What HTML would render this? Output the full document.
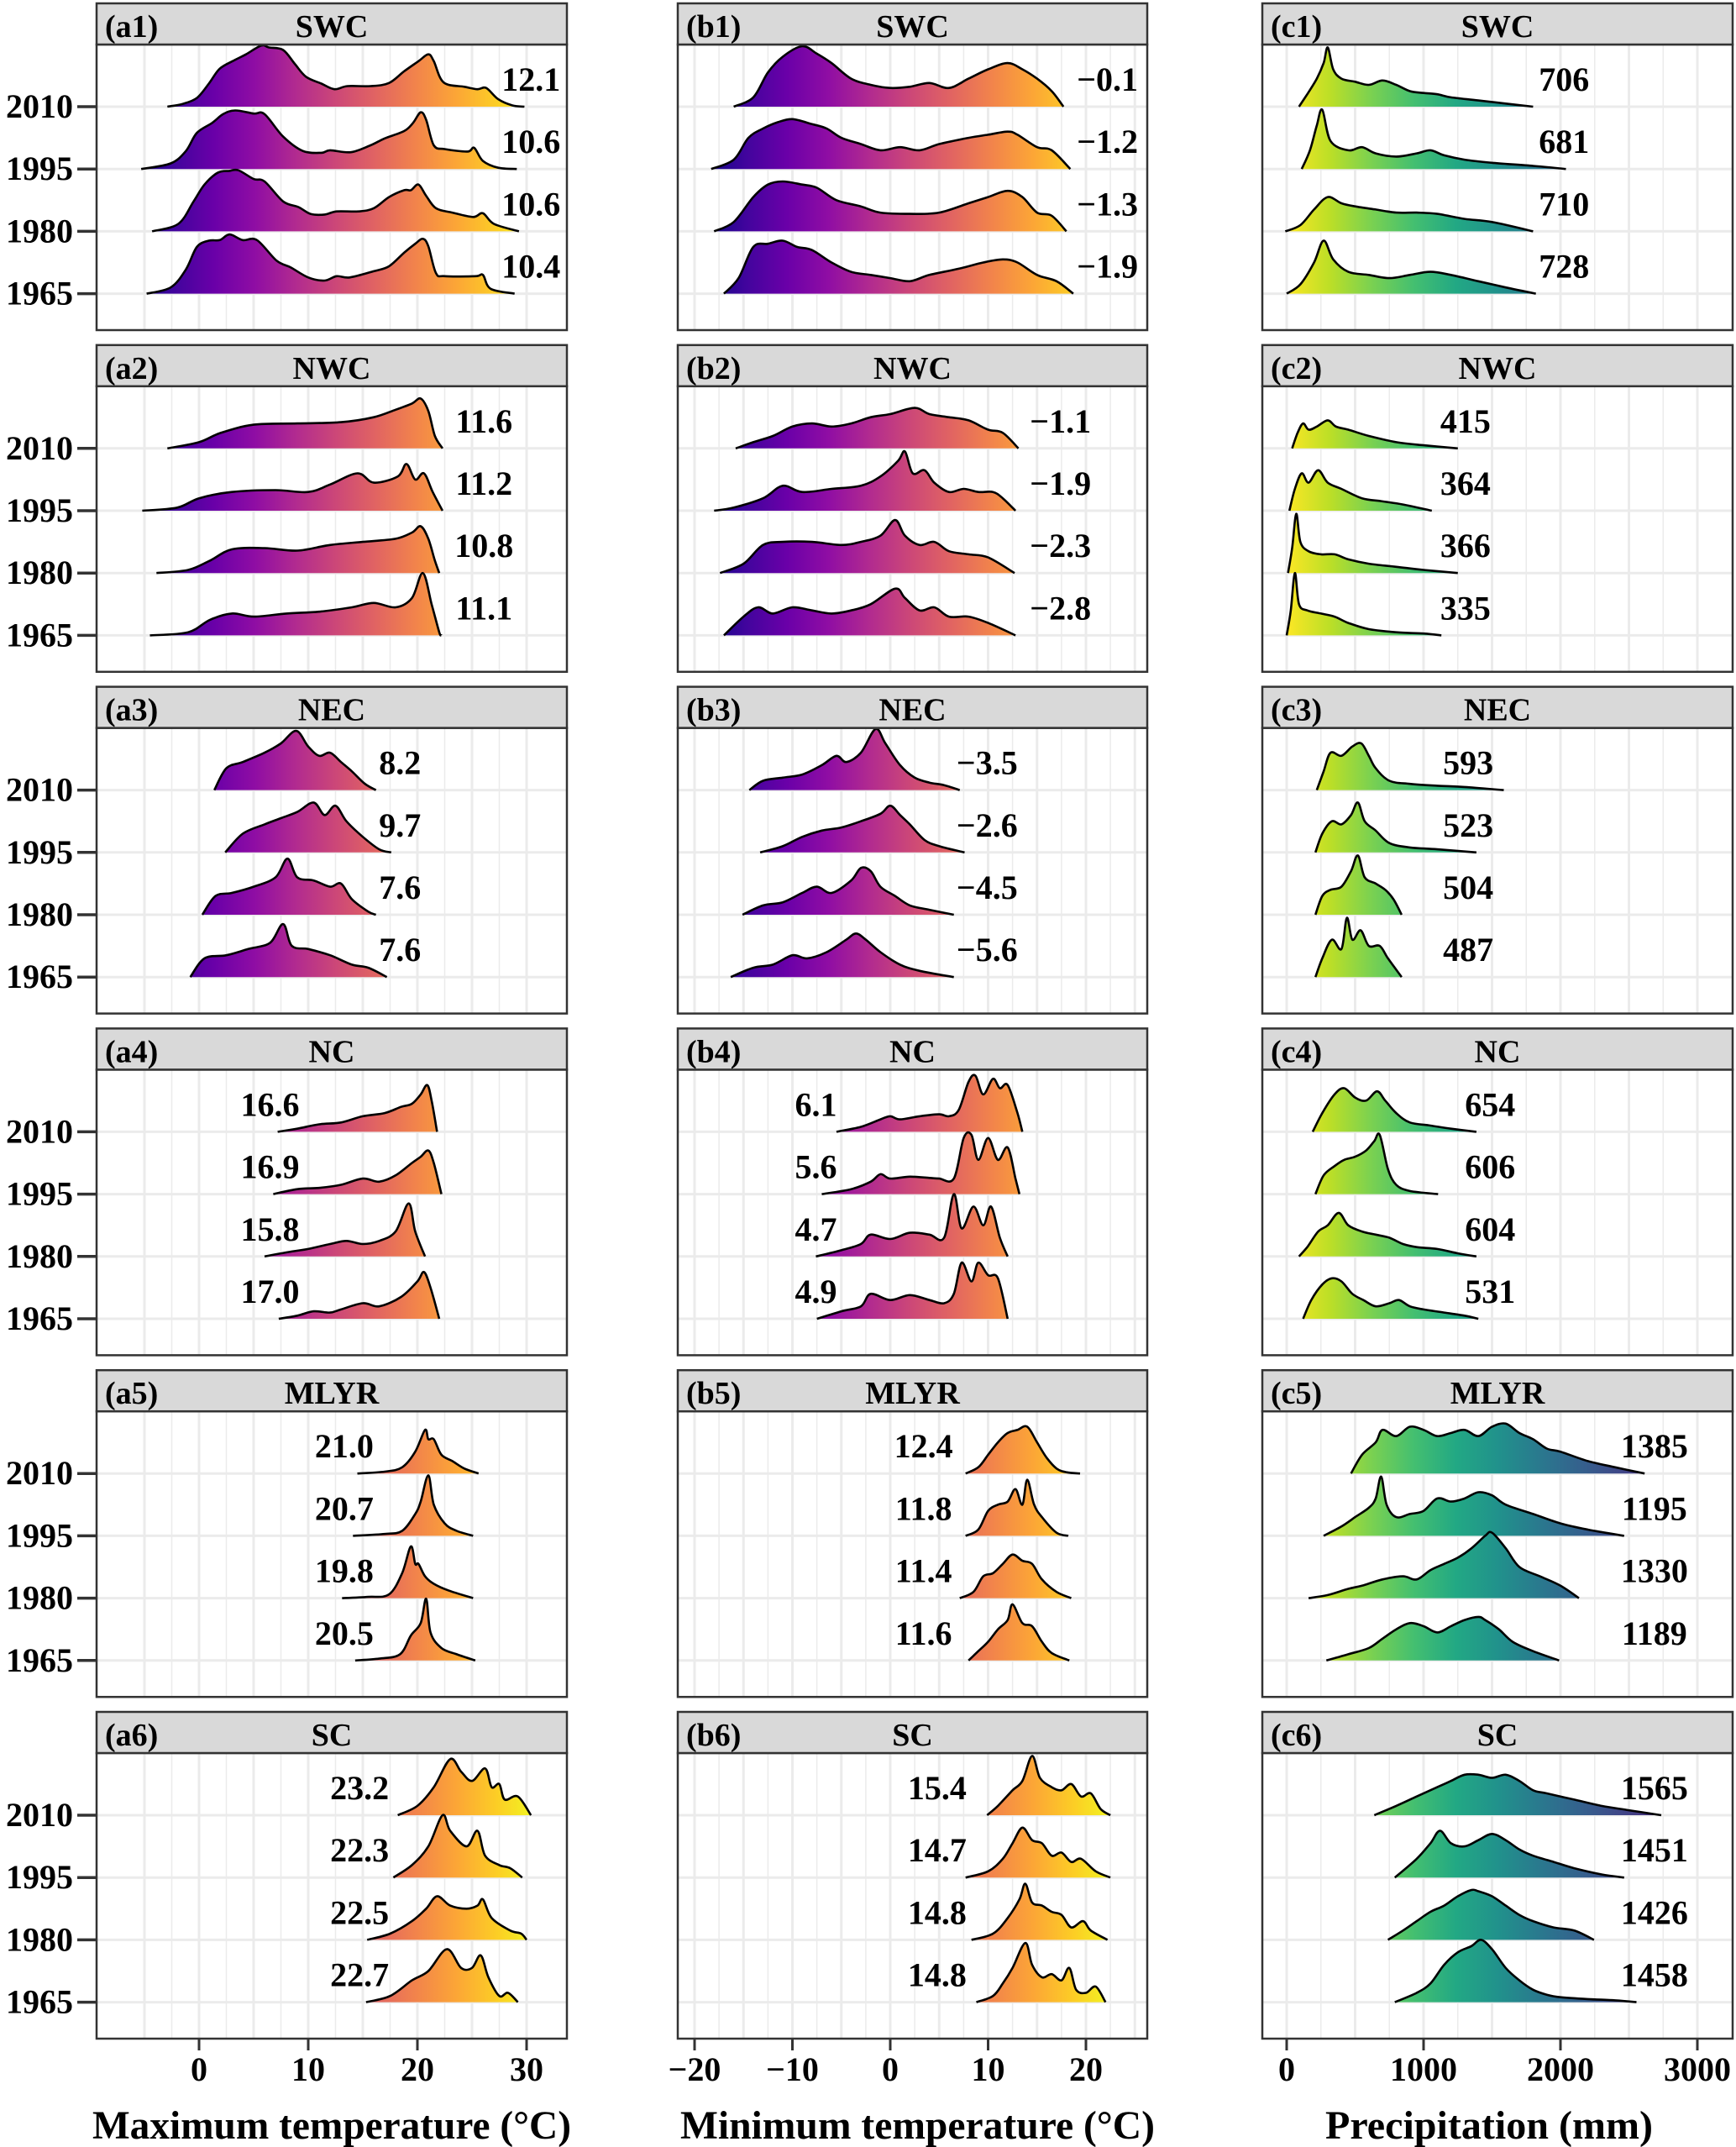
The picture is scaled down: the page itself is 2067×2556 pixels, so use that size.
<!DOCTYPE html>
<html><head><meta charset="utf-8"><style>
html,body{margin:0;padding:0;background:#fff;}
svg{display:block;}
svg text{font-family:"Liberation Serif","Times New Roman",serif;font-weight:bold;}
</style></head><body>
<svg id="chart" width="2067" height="2556" viewBox="0 0 2067 2556" xmlns="http://www.w3.org/2000/svg">
<defs>
<linearGradient id="ga" gradientUnits="userSpaceOnUse" x1="159" y1="0" x2="640" y2="0">
<stop offset="0" stop-color="#0d0887"/><stop offset="0.1" stop-color="#41049d"/><stop offset="0.2" stop-color="#6a00a8"/><stop offset="0.3" stop-color="#8f0da4"/><stop offset="0.4" stop-color="#b12a90"/><stop offset="0.5" stop-color="#cc4778"/><stop offset="0.6" stop-color="#e16462"/><stop offset="0.7" stop-color="#f2844b"/><stop offset="0.8" stop-color="#fca636"/><stop offset="0.9" stop-color="#fcce25"/><stop offset="1" stop-color="#f0f921"/></linearGradient>
<linearGradient id="gb" gradientUnits="userSpaceOnUse" x1="839" y1="0" x2="1328" y2="0">
<stop offset="0" stop-color="#0d0887"/><stop offset="0.1" stop-color="#41049d"/><stop offset="0.2" stop-color="#6a00a8"/><stop offset="0.3" stop-color="#8f0da4"/><stop offset="0.4" stop-color="#b12a90"/><stop offset="0.5" stop-color="#cc4778"/><stop offset="0.6" stop-color="#e16462"/><stop offset="0.7" stop-color="#f2844b"/><stop offset="0.8" stop-color="#fca636"/><stop offset="0.9" stop-color="#fcce25"/><stop offset="1" stop-color="#f0f921"/></linearGradient>
<linearGradient id="gc" gradientUnits="userSpaceOnUse" x1="1532" y1="0" x2="2037" y2="0">
<stop offset="0" stop-color="#fde725"/><stop offset="0.1" stop-color="#bddf26"/><stop offset="0.2" stop-color="#7ad151"/><stop offset="0.3" stop-color="#44bf70"/><stop offset="0.4" stop-color="#22a884"/><stop offset="0.5" stop-color="#21918c"/><stop offset="0.6" stop-color="#2a788e"/><stop offset="0.7" stop-color="#355f8d"/><stop offset="0.8" stop-color="#414487"/><stop offset="0.9" stop-color="#482475"/><stop offset="1" stop-color="#440154"/></linearGradient>
</defs>
</svg>
<script>
const years = ["2010","1995","1980","1965"];
const regions = ["SWC","NWC","NEC","NC","MLYR","SC"];
const ticksA = [0,10,20,30];
const ticksB = [-20,-10,0,10,20];
const ticksC = [0,1000,2000,3000];
const titles = ["Maximum temperature (°C)","Minimum temperature (°C)","Precipitation (mm)"];
const means_a = [["12.1","10.6","10.6","10.4"],["11.6","11.2","10.8","11.1"],["8.2","9.7","7.6","7.6"],["16.6","16.9","15.8","17.0"],["21.0","20.7","19.8","20.5"],["23.2","22.3","22.5","22.7"]];
const means_b = [["−0.1","−1.2","−1.3","−1.9"],["−1.1","−1.9","−2.3","−2.8"],["−3.5","−2.6","−4.5","−5.6"],["6.1","5.6","4.7","4.9"],["12.4","11.8","11.4","11.6"],["15.4","14.7","14.8","14.8"]];
const means_c = [["706","681","710","728"],["415","364","366","335"],["593","523","504","487"],["654","606","604","531"],["1385","1195","1330","1189"],["1565","1451","1426","1458"]];
const labelX_a = [30.4,26.1,18.4,6.5,13.3,14.7];
const labelX_b = [22.2,17.4,9.9,-7.6,3.4,4.8];
const labelX_c = [2026,1306,1326,1486,2686,2686];

// ---- column a (Tmax) ----
const a1_2010=[[-2.9,0],[-1.5,.045],[-.2,.14],[.9,.37],[1.9,.61],[3.3,.75],[4.3,.84],[5.7,.98],[6.4,.95],[7.7,.91],[8.8,.68],[9.8,.48],[11.2,.37],[12.4,.28],[13.6,.33],[15.7,.33],[17.4,.38],[18.8,.57],[20.1,.73],[21,.84],[21.5,.73],[22.4,.39],[24.3,.32],[25.5,.28],[26.3,.3],[27.4,.12],[28.7,.02],[29.8,0]];
const a1_1995=[[-5.3,0],[-2.6,.09],[-1.2,.29],[-.2,.58],[1.2,.74],[2.2,.88],[3.3,.94],[5,.89],[6,.88],[7.7,.52],[9.5,.29],[11.2,.26],[12,.3],[13.9,.27],[15.7,.38],[17,.49],[18.8,.61],[19.6,.74],[20.3,.91],[20.8,.79],[21.5,.38],[22.5,.32],[24.6,.28],[25.2,.34],[26,.13],[27.4,.02],[29.1,0]];
const a1_1980=[[-4.3,0],[-1.9,.12],[-.5,.48],[.5,.75],[1.7,.94],[2.8,.97],[3.6,.98],[5,.84],[6,.8],[7.7,.48],[9.1,.39],[10.2,.28],[11.5,.27],[12.6,.32],[14.6,.32],[16,.37],[17.4,.55],[18.8,.66],[19.4,.66],[20.1,.75],[20.8,.57],[21.7,.37],[23.2,.3],[25.1,.23],[26,.29],[27,.12],[29.3,0]];
const a1_1965=[[-4.8,0],[-2.6,.1],[-1.2,.39],[-.2,.75],[.9,.85],[1.9,.86],[2.8,.95],[4,.86],[5.3,.86],[7.1,.53],[8.4,.42],[10,.26],[11.5,.21],[12.6,.28],[13.8,.26],[16,.36],[17.4,.44],[18.8,.66],[19.8,.8],[20.5,.88],[21,.76],[21.7,.33],[22.5,.28],[25.3,.28],[26,.3],[26.7,.08],[28.9,0]];
const a2_2010=[[-2.9,0],[0,.1],[2,.25],[5,.38],[9,.4],[13,.42],[16,.5],[18,.62],[19.5,.72],[20.3,.8],[21,.6],[21.6,.2],[22.3,0]];
const a2_1995=[[-5.2,0],[-2,.05],[0,.2],[3,.3],[7,.33],[10,.3],[12,.42],[14.5,.6],[16,.45],[18.2,.55],[19,.75],[19.8,.5],[20.6,.6],[21.4,.3],[22.3,0]];
const a2_1980=[[-3.9,0],[-1,.05],[1,.2],[3,.38],[6,.4],[9,.36],[12,.45],[15,.5],[18,.55],[19.5,.65],[20.3,.75],[21,.55],[21.6,.2],[22,0]];
const a2_1965=[[-4.5,0],[-1,.05],[1,.25],[3,.35],[5,.3],[8,.35],[11,.38],[14,.45],[16,.52],[18,.45],[19.5,.6],[20.5,1],[21.3,.5],[22,.05],[22.2,0]];
const a3_2010=[[1.4,0],[2.5,.35],[4,.45],[6,.6],[7.5,.75],[8.9,.95],[10,.7],[11,.55],[12,.6],[13,.45],[14,.3],[15.2,.1],[16.2,0]];
const a3_1995=[[2.4,0],[4,.3],[6,.45],[7.5,.55],[9,.65],[10.5,.8],[11.5,.6],[12.5,.75],[13.5,.5],[15,.25],[16.5,.05],[17.6,0]];
const a3_1980=[[.3,0],[1.5,.3],[3,.35],[5,.45],[7,.6],[8.1,.9],[9,.6],[10.5,.55],[12,.45],[13,.5],[14,.25],[15.5,.05],[16.2,0]];
const a3_1965=[[-.8,0],[.5,.3],[2.5,.35],[4.5,.45],[6.5,.55],[7.7,.85],[8.5,.5],[10,.45],[12,.35],[14,.2],[15.5,.15],[17.2,0]];
const a4_2010=[[7.2,0],[9,.05],[11,.12],[13,.15],[15,.25],[17,.3],[18.5,.4],[19.5,.45],[20.3,.6],[20.9,.75],[21.3,.5],[21.8,0]];
const a4_1995=[[6.8,0],[9,.08],[11,.1],[13,.15],[15,.25],[16.5,.2],[18,.3],[19.5,.5],[20.3,.6],[21,.7],[21.5,.5],[22.2,0]];
const a4_1980=[[6,0],[8.5,.08],[10,.12],[12,.2],[13.5,.25],[15,.2],[16.5,.25],[18,.4],[19.2,.85],[19.8,.4],[20.7,0]];
const a4_1965=[[7.3,0],[9,.05],[10.5,.12],[12,.1],[13,.15],[15,.25],[16.5,.2],[18.5,.35],[20,.6],[20.6,.75],[21.2,.5],[22,0]];
const a5_2010=[[14.5,0],[17,.03],[18.6,.1],[19.8,.35],[20.7,.7],[21,.55],[21.5,.55],[22.2,.3],[23.2,.2],[24.3,.08],[25.6,0]];
const a5_1995=[[14.1,0],[17,.03],[18.6,.08],[19.8,.35],[20.3,.55],[21,.97],[21.5,.5],[22.5,.2],[23.6,.08],[25.1,0]];
const a5_1980=[[13.1,0],[15.5,.02],[17.4,.06],[18.6,.4],[19.4,.83],[19.8,.55],[20.1,.55],[20.7,.35],[21.5,.23],[22.9,.12],[25.1,0]];
const a5_1965=[[14.3,0],[16.5,.03],[18.4,.1],[19.4,.4],[20.3,.6],[20.8,.99],[21.2,.45],[22.2,.2],[23.6,.1],[25.3,0]];
const a6_2010=[[18.2,0],[20,.15],[21.5,.45],[23,.9],[24,.7],[25,.55],[26.2,.75],[26.8,.45],[27.5,.5],[28,.25],[29.2,.3],[30.4,0]];
const a6_1995=[[17.8,0],[19.5,.2],[21,.5],[22.3,1],[23,.75],[24.5,.5],[25.5,.75],[26.2,.35],[27.5,.2],[28.5,.15],[29.6,0]];
const a6_1980=[[15.4,0],[17.5,.1],[19.5,.3],[20.8,.5],[21.8,.7],[23,.55],[24.5,.5],[25.5,.55],[26,.65],[26.8,.35],[28.5,.15],[29.5,.1],[30,0]];
const a6_1965=[[15.3,0],[17.5,.1],[19.5,.35],[21,.5],[22.7,.85],[24,.55],[25,.55],[25.8,.75],[26.5,.4],[27.5,.1],[28.3,.15],[29.2,0]];
// ---- column b (Tmin) ----
const b1_2010=[[-16,0],[-14,.15],[-12.5,.55],[-11,.8],[-9,.97],[-7.5,.85],[-6,.7],[-4,.45],[-2,.35],[0,.3],[2,.32],[4,.38],[6,.3],[8,.45],[10,.6],[12,.7],[13.5,.6],[15,.45],[16.5,.25],[17.7,0]];
const b1_1995=[[-18.3,0],[-16,.15],[-14.5,.5],[-13,.65],[-11.5,.75],[-10,.8],[-8,.72],[-6.5,.65],[-5,.5],[-3,.4],[-1,.3],[1,.35],[3,.3],[5,.4],[8,.5],[10,.55],[12,.6],[13,.55],[15,.35],[16.5,.3],[18.4,0]];
const b1_1980=[[-18,0],[-16,.15],[-14,.55],[-12.5,.75],[-11,.8],[-9,.75],[-7.5,.7],[-5.5,.5],[-3,.4],[-1,.3],[2,.28],[5,.3],[8,.45],[10,.55],[12,.65],[13.5,.55],[15,.3],[16.5,.25],[18,0]];
const b1_1965=[[-17,0],[-15.5,.25],[-14,.75],[-12.5,.8],[-11,.85],[-9.5,.75],[-8,.7],[-6,.5],[-4,.35],[-2,.3],[0,.25],[2,.2],[4,.3],[7,.4],[9.5,.5],[11.5,.55],[13,.5],[15,.3],[17,.2],[18.7,0]];
const b2_2010=[[-15.8,0],[-14,.1],[-12,.2],[-10,.35],[-8,.4],[-6,.35],[-4,.4],[-2,.5],[0,.55],[2.5,.65],[4,.55],[6,.5],[8,.45],[10,.3],[11.5,.25],[13.1,0]];
const b2_1995=[[-18,0],[-16,.05],[-13,.2],[-11,.4],[-9,.3],[-6,.35],[-3,.4],[-1,.55],[.8,.8],[1.5,.95],[2.3,.6],[3.5,.65],[4.5,.45],[6,.3],[7.5,.35],[9,.3],[10.5,.3],[11.5,.2],[12.8,0]];
const b2_1980=[[-17.4,0],[-15,.15],[-13,.45],[-11,.5],[-8,.5],[-5,.45],[-3,.5],[-1,.6],[.5,.85],[1.5,.6],[3,.45],[4.5,.5],[6,.35],[8,.3],[10,.25],[12.7,0]];
const b2_1965=[[-17,0],[-15,.3],[-13.5,.45],[-12,.35],[-10,.45],[-8,.4],[-6,.35],[-4,.4],[-2,.5],[.5,.75],[1.5,.6],[3,.4],[4.5,.45],[6,.3],[8,.3],[10,.2],[12.8,0]];
const b3_2010=[[-14.4,0],[-13,.15],[-11,.2],[-9,.25],[-7,.4],[-5.5,.55],[-4.5,.45],[-3,.6],[-1.5,.98],[-.5,.75],[1,.4],[2.5,.2],[4,.12],[5.5,.08],[7.1,0]];
const b3_1995=[[-13.3,0],[-11,.1],[-9,.25],[-7,.35],[-5,.4],[-3,.5],[-1,.62],[0,.75],[1,.6],[2,.45],[3.5,.2],[5,.1],[7.6,0]];
const b3_1980=[[-15.1,0],[-13,.15],[-11,.2],[-9,.35],[-7.5,.45],[-6,.35],[-4,.55],[-3,.75],[-2,.7],[-1,.45],[.5,.3],[2,.15],[4,.08],[6.5,0]];
const b3_1965=[[-16.3,0],[-14,.15],[-12,.2],[-10,.35],[-8.5,.3],[-6.5,.4],[-4.5,.6],[-3.5,.7],[-2.5,.6],[-1,.4],[1,.2],[3,.1],[6.5,0]];
const b4_2010=[[-5.5,0],[-3,.08],[-1,.2],[0,.25],[1,.2],[3,.25],[5,.28],[6,.25],[7,.35],[8,.8],[8.7,.9],[9.5,.6],[10.5,.85],[11.2,.7],[12,.75],[13,.3],[13.5,0]];
const b4_1995=[[-7,0],[-4,.08],[-2,.2],[-1,.32],[0,.25],[2,.28],[4,.26],[5,.25],[6.5,.25],[7.5,.9],[8.3,.95],[9,.55],[10,.9],[11,.55],[12,.75],[12.8,.25],[13.2,0]];
const b4_1980=[[-7.6,0],[-5,.1],[-3,.2],[-2,.35],[0,.28],[2,.38],[4,.35],[5.5,.3],[6.5,1],[7.3,.45],[8.5,.8],[9.5,.5],[10.3,.8],[11.2,.3],[12,0]];
const b4_1965=[[-7.5,0],[-5,.12],[-3,.2],[-2,.4],[0,.3],[2,.38],[4,.3],[5.5,.25],[6.5,.4],[7.3,.9],[8.3,.6],[9,.9],[10,.7],[11,.65],[12,0]];
const b5_2010=[[7.7,0],[9,.1],[10,.3],[11,.5],[12,.65],[13,.7],[14,.75],[15,.5],[16,.25],[17,.08],[18,.02],[19.4,0]];
const b5_1995=[[7.7,0],[9,.1],[10,.4],[11,.5],[12,.55],[12.8,.75],[13.5,.5],[14,.9],[14.7,.5],[15.5,.3],[17,.05],[18.2,0]];
const b5_1980=[[7.1,0],[8.5,.1],[9.5,.35],[10.5,.4],[11.5,.55],[12.5,.7],[13.5,.6],[14.5,.55],[15.5,.3],[17,.1],[18.5,0]];
const b5_1965=[[8,0],[9,.15],[10,.3],[11,.5],[12,.65],[12.5,.9],[13.5,.6],[14.5,.55],[15.5,.3],[16.5,.12],[18.3,0]];
const b6_2010=[[9.9,0],[11,.15],[12.5,.4],[13.5,.55],[14.5,.95],[15.3,.6],[16.5,.45],[17.5,.4],[18.5,.5],[19.5,.3],[20.5,.35],[21.5,.1],[22.5,0]];
const b6_1995=[[7.7,0],[10,.1],[11.5,.3],[12.5,.55],[13.5,.8],[14.5,.6],[15.5,.55],[16.5,.35],[17.5,.4],[18.5,.25],[19.5,.3],[21,.1],[22.5,0]];
const b6_1980=[[8.3,0],[10.5,.1],[12,.35],[13.2,.65],[13.8,.9],[14.5,.6],[15.5,.55],[16.5,.45],[17.5,.4],[18.5,.2],[19.7,.3],[20.5,.15],[22.2,0]];
const b6_1965=[[8.8,0],[10.5,.1],[11.5,.3],[12.5,.55],[13.8,.95],[14.5,.6],[15.5,.4],[16.5,.45],[17.5,.35],[18.3,.55],[19,.2],[20,.15],[21,.25],[22,0]];
// ---- column c (Precip) ----
const c1_2010=[[90,0],[150,.2],[220,.45],[270,.7],[300,.95],[340,.6],[400,.45],[500,.4],[600,.35],[700,.42],[800,.35],[900,.25],[1000,.22],[1100,.2],[1200,.15],[1400,.1],[1600,.05],[1800,0]];
const c1_1995=[[110,0],[170,.3],[220,.7],[260,.95],[320,.45],[450,.3],[550,.35],[650,.25],[800,.2],[950,.25],[1050,.3],[1150,.22],[1300,.15],[1500,.1],[1800,.05],[2040,0]];
const c1_1980=[[-10,0],[100,.1],[200,.35],[300,.55],[400,.45],[500,.4],[650,.35],[800,.3],[950,.3],[1100,.28],[1300,.2],[1500,.15],[1800,0]];
const c1_1965=[[0,0],[100,.15],[200,.5],[270,.85],[340,.55],[450,.35],[600,.3],[750,.25],[900,.3],[1050,.35],[1200,.3],[1400,.2],[1600,.1],[1820,0]];
const c2_2010=[[40,0],[80,.25],[120,.4],[160,.3],[220,.35],[300,.45],[360,.35],[450,.3],[600,.2],[800,.1],[1000,.05],[1250,0]];
const c2_1995=[[20,0],[60,.35],[110,.6],[160,.45],[230,.65],[300,.45],[400,.35],[550,.2],[700,.15],[850,.1],[1060,0]];
const c2_1980=[[10,0],[40,.4],[70,.95],[100,.5],[160,.35],[250,.3],[350,.3],[450,.22],[600,.15],[800,.1],[1000,.05],[1250,0]];
const c2_1965=[[0,0],[30,.4],[60,1],[90,.5],[150,.4],[250,.35],[350,.3],[450,.2],[600,.1],[800,.05],[1000,.03],[1130,0]];
const c3_2010=[[220,0],[270,.3],[320,.6],[400,.55],[480,.7],[545,.75],[600,.55],[650,.35],[750,.15],[900,.1],[1100,.07],[1300,.05],[1586,0]];
const c3_1995=[[210,0],[260,.3],[330,.5],[400,.45],[470,.6],[520,.8],[570,.5],[650,.35],[750,.15],[900,.08],[1100,.05],[1386,0]];
const c3_1980=[[210,0],[260,.3],[320,.4],[400,.45],[470,.7],[520,.95],[570,.6],[650,.5],[720,.4],[780,.25],[840,0]];
const c3_1965=[[210,0],[260,.3],[330,.6],[400,.45],[440,.95],[480,.6],[540,.75],[600,.5],[680,.5],[740,.3],[840,0]];
const c4_2010=[[190,0],[260,.3],[350,.6],[420,.7],[500,.55],[580,.5],[660,.65],[720,.5],[800,.3],[900,.15],[1050,.1],[1200,.05],[1386,0]];
const c4_1995=[[210,0],[270,.3],[350,.45],[420,.55],[500,.6],[580,.7],[640,.85],[680,.95],[740,.4],[800,.15],[900,.05],[1106,0]];
const c4_1980=[[90,0],[150,.15],[230,.4],[300,.5],[380,.7],[450,.5],[550,.4],[650,.35],[750,.3],[850,.2],[950,.15],[1100,.12],[1250,.05],[1386,0]];
const c4_1965=[[120,0],[180,.3],[260,.55],[330,.65],[400,.6],[480,.4],[560,.3],[650,.2],[750,.25],[820,.3],[900,.2],[1000,.15],[1150,.1],[1300,.05],[1400,0]];
const c5_2010=[[470,0],[550,.3],[650,.5],[700,.7],[800,.6],[900,.75],[1000,.7],[1100,.6],[1200,.65],[1300,.7],[1400,.6],[1500,.75],[1600,.8],[1700,.65],[1800,.55],[1900,.4],[2000,.35],[2200,.2],[2400,.1],[2615,0]];
const c5_1995=[[270,0],[400,.15],[500,.3],[600,.45],[650,.6],[690,.95],[730,.5],[800,.3],[900,.35],[1000,.4],[1100,.6],[1200,.55],[1300,.6],[1400,.7],[1500,.65],[1600,.5],[1800,.35],[2000,.2],[2200,.1],[2465,0]];
const c5_1980=[[160,0],[300,.05],[450,.15],[550,.2],[700,.3],[850,.35],[950,.3],[1050,.45],[1150,.55],[1250,.65],[1350,.8],[1450,1],[1500,1.05],[1600,.8],[1700,.5],[1850,.35],[2000,.2],[2135,0]];
const c5_1965=[[290,0],[450,.1],[600,.2],[700,.35],[800,.5],[900,.6],[1000,.55],[1100,.45],[1200,.55],[1300,.65],[1400,.7],[1450,.65],[1550,.5],[1650,.3],[1800,.15],[1990,0]];
const c6_2010=[[640,0],[800,.15],[950,.3],[1100,.45],[1200,.55],[1300,.65],[1400,.65],[1500,.6],[1600,.65],[1700,.55],[1800,.4],[1900,.35],[2100,.25],[2300,.15],[2500,.08],[2736,0]];
const c6_1995=[[790,0],[950,.3],[1050,.55],[1120,.75],[1200,.55],[1300,.5],[1400,.6],[1500,.7],[1600,.6],[1700,.45],[1800,.35],[1950,.25],[2100,.15],[2300,.05],[2465,0]];
const c6_1980=[[740,0],[850,.15],[950,.3],[1050,.45],[1150,.55],[1250,.7],[1350,.8],[1400,.78],[1500,.7],[1600,.55],[1700,.4],[1800,.3],[1950,.2],[2100,.15],[2245,0]];
const c6_1965=[[790,0],[950,.15],[1050,.3],[1150,.6],[1250,.8],[1350,.9],[1420,1],[1500,.85],[1600,.55],[1700,.35],[1800,.2],[1900,.12],[2000,.08],[2200,.05],[2400,.03],[2555,0]];

const ridgesA=[[a1_2010,a1_1995,a1_1980,a1_1965],[a2_2010,a2_1995,a2_1980,a2_1965],[a3_2010,a3_1995,a3_1980,a3_1965],[a4_2010,a4_1995,a4_1980,a4_1965],[a5_2010,a5_1995,a5_1980,a5_1965],[a6_2010,a6_1995,a6_1980,a6_1965]];
const ridgesB=[[b1_2010,b1_1995,b1_1980,b1_1965],[b2_2010,b2_1995,b2_1980,b2_1965],[b3_2010,b3_1995,b3_1980,b3_1965],[b4_2010,b4_1995,b4_1980,b4_1965],[b5_2010,b5_1995,b5_1980,b5_1965],[b6_2010,b6_1995,b6_1980,b6_1965]];
const ridgesC=[[c1_2010,c1_1995,c1_1980,c1_1965],[c2_2010,c2_1995,c2_1980,c2_1965],[c3_2010,c3_1995,c3_1980,c3_1965],[c4_2010,c4_1995,c4_1980,c4_1965],[c5_2010,c5_1995,c5_1980,c5_1965],[c6_2010,c6_1995,c6_1980,c6_1965]];

const NS="http://www.w3.org/2000/svg";
const svg=document.getElementById('chart');
const FONT='"Liberation Serif", "Times New Roman", serif';
function mk(tag,attrs,parent){const e=document.createElementNS(NS,tag);for(const k in attrs)e.setAttribute(k,attrs[k]);if(tag==='text'){e.setAttribute('font-family',FONT);e.setAttribute('font-weight','bold');}(parent||svg).appendChild(e);return e;}
const cols=[
 {key:'a',x0:115,x1:675,sx:v=>237+13.0*v,gmin:-5,gmax:30,gstep:5,ticks:ticksA,grad:'url(#ga)',ridges:ridgesA,means:means_a,lx:labelX_a,fmt:v=>String(v)},
 {key:'b',x0:807,x1:1366,sx:v=>1060+11.65*v,gmin:-20,gmax:25,gstep:5,ticks:ticksB,grad:'url(#gb)',ridges:ridgesB,means:means_b,lx:labelX_b,fmt:v=>v<0?'−'+(-v):String(v)},
 {key:'c',x0:1503,x1:2063,sx:v=>1532+0.163*v,gmin:0,gmax:3000,gstep:500,ticks:ticksC,grad:'url(#gc)',ridges:ridgesC,means:means_c,lx:labelX_c,fmt:v=>String(v)}
];
const ROW=406.8, UNIT=74.2;
function smooth(pts){let d='M'+pts[0][0]+','+pts[0][1];for(let i=0;i<pts.length-1;i++){const p0=pts[i-1]||pts[i],p1=pts[i],p2=pts[i+1],p3=pts[i+2]||p2;const c1x=p1[0]+(p2[0]-p0[0])/6,c1y=p1[1]+(p2[1]-p0[1])/6,c2x=p2[0]-(p3[0]-p1[0])/6,c2y=p2[1]-(p3[1]-p1[1])/6;d+=' C'+c1x.toFixed(1)+','+c1y.toFixed(1)+' '+c2x.toFixed(1)+','+c2y.toFixed(1)+' '+p2[0].toFixed(1)+','+p2[1].toFixed(1);}return d;}
cols.forEach((c,ci)=>{
 for(let r=0;r<6;r++){
  const T=4+r*ROW, pTop=T+49, pBot=T+389;
  const g=mk('g',{});
  
  
  mk('rect',{x:c.x0,y:pTop,width:c.x1-c.x0,height:pBot-pTop,fill:'#fff'},g);
  for(let v=c.gmin;v<=c.gmax+1e-6;v+=c.gstep/2){const x=c.sx(v);if(x<c.x0||x>c.x1)continue;const major=Math.abs((v-c.gmin)%c.gstep)<1e-6;
   const gl=mk('line',{x1:x,x2:x,y1:pTop,y2:pBot,stroke:'#EBEBEB','stroke-width':major?3:1.5},g);
   
   }
  const bases=years.map((y,k)=>T+123+k*UNIT);
  bases.forEach(b=>{const hl=mk('line',{x1:c.x0,x2:c.x1,y1:b,y2:b,stroke:'#EBEBEB','stroke-width':3},g);
   
   });
  c.ridges[r].forEach((data,k)=>{
   const b=bases[k];
   const pts=data.map(p=>[c.sx(p[0]),Math.min(b,b-p[1]*UNIT)]);
   const line=smooth(pts);
   const fill=mk('path',{d:line+' L'+pts[pts.length-1][0]+','+b+' L'+pts[0][0]+','+b+' Z',fill:c.grad,stroke:'none'},g);
   
   
   const st=mk('path',{d:line,fill:'none',stroke:'#000','stroke-width':2.6,'stroke-linejoin':'round'},g);
   
   
   const t=mk('text',{x:c.sx(c.lx[r]),y:b-19,'text-anchor':'middle','font-size':40,fill:'#000'},g);
   t.textContent=c.means[r][k];
   
   
  });
  mk('rect',{x:c.x0,y:pTop,width:c.x1-c.x0,height:pBot-pTop,fill:'none',stroke:'#333','stroke-width':2.5},g);
  const strip=mk('rect',{x:c.x0,y:T,width:c.x1-c.x0,height:49,fill:'#D9D9D9',stroke:'#333','stroke-width':2.5},g);
  
  
  const pl=mk('text',{x:c.x0+10,y:T+40,'font-size':38,fill:'#000'},g);
  pl.textContent='('+c.key+(r+1)+')';
  
  
  const rt=mk('text',{x:(c.x0+c.x1)/2,y:T+40,'font-size':38,'text-anchor':'middle',fill:'#000'},g);
  rt.textContent=regions[r];
  
  
  if(ci===0){bases.forEach((b,k)=>{
   mk('line',{x1:92,x2:c.x0,y1:b,y2:b,stroke:'#333','stroke-width':3.5},g);
   const yl=mk('text',{x:87,y:b+13,'text-anchor':'end','font-size':40,fill:'#000'},g);
   yl.textContent=years[k];
   
   });}
  if(r===5){
   c.ticks.forEach(v=>{const x=c.sx(v);
    mk('line',{x1:x,x2:x,y1:pBot,y2:pBot+14,stroke:'#333','stroke-width':3},g);
    const tl=mk('text',{x:x,y:2477,'text-anchor':'middle','font-size':40,fill:'#000'},g);
    tl.textContent=c.fmt(v);
    
    });
   const lens=[570,565,390];
   const at=mk('text',{x:(c.x0+c.x1)/2+[0,6,-10][ci],y:2546,'text-anchor':'middle','font-size':48,fill:'#000',textLength:lens[ci],lengthAdjust:'spacingAndGlyphs'},g);
   at.textContent=titles[ci];
   
   
  }
 }
});
</script>
</body></html>
